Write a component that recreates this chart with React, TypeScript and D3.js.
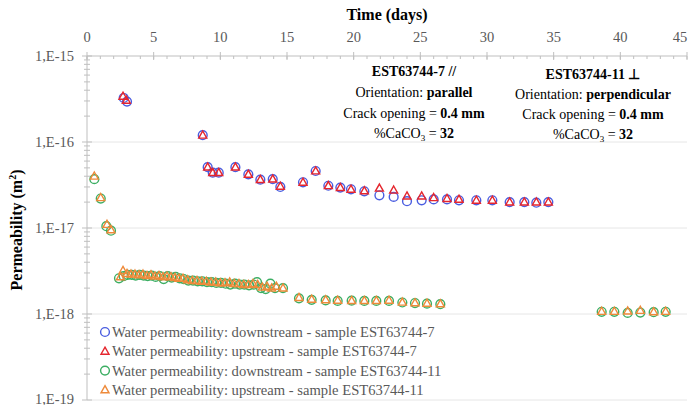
import * as d3 from "d3";
import React from "react";

// day, permeability (m2)
const blueDown: [number, number][] = [
  [2.75, 3.25e-16], [3.0, 2.95e-16], [8.68, 1.2e-16], [9.05, 5.1e-17], [9.43, 4.4e-17],
  [9.88, 4.4e-17], [11.13, 5.1e-17], [12.1, 4.2e-17], [13.0, 3.65e-17], [13.93, 3.7e-17],
  [14.5, 3.0e-17], [16.2, 3.4e-17], [17.15, 4.6e-17], [18.1, 3.1e-17], [19.0, 2.95e-17],
  [19.8, 2.82e-17], [20.8, 2.67e-17], [21.93, 2.4e-17], [23.0, 2.3e-17], [24.0, 2.05e-17],
  [25.1, 2.1e-17], [26.0, 2.15e-17], [27.0, 2.15e-17], [27.9, 2.1e-17], [29.2, 2.1e-17],
  [30.4, 2.1e-17], [31.7, 2.0e-17], [32.8, 2.0e-17], [33.7, 1.97e-17], [34.6, 2.0e-17],
];

const redUp: [number, number][] = [
  [2.7, 3.4e-16], [2.95, 3.05e-16], [8.68, 1.2e-16], [9.05, 5.1e-17], [9.43, 4.4e-17],
  [9.88, 4.4e-17], [11.13, 5.1e-17], [12.1, 4.2e-17], [13.0, 3.65e-17], [13.93, 3.7e-17],
  [14.5, 3.05e-17], [16.2, 3.4e-17], [17.15, 4.6e-17], [18.1, 3.1e-17], [19.0, 2.95e-17],
  [19.8, 2.82e-17], [20.8, 2.7e-17], [21.93, 2.9e-17], [23.0, 2.75e-17], [24.0, 2.35e-17],
  [25.1, 2.35e-17], [26.0, 2.25e-17], [27.0, 2.2e-17], [27.9, 2.15e-17], [29.2, 2.1e-17],
  [30.4, 2.1e-17], [31.7, 2.0e-17], [32.8, 2.0e-17], [33.7, 2.0e-17], [34.6, 2.0e-17],
];

const greenDown: [number, number][] = [
  [0.55, 3.7e-17], [1.03, 2.2e-17], [1.45, 1.05e-17], [1.8, 9.3e-18],
  [2.4, 2.6e-18], [2.75, 2.75e-18], [3.05, 2.85e-18], [3.35, 2.85e-18], [3.65, 2.8e-18],
  [3.95, 2.85e-18], [4.25, 2.8e-18], [4.55, 2.75e-18], [4.85, 2.8e-18], [5.15, 2.7e-18],
  [5.45, 2.75e-18], [5.75, 2.55e-18], [6.05, 2.75e-18], [6.35, 2.65e-18], [6.65, 2.7e-18],
  [6.95, 2.6e-18], [7.25, 2.55e-18], [7.6, 2.45e-18], [7.95, 2.45e-18], [8.3, 2.4e-18],
  [8.65, 2.4e-18], [9.0, 2.35e-18], [9.35, 2.35e-18], [9.7, 2.3e-18], [10.05, 2.3e-18],
  [10.4, 2.25e-18], [10.75, 2.2e-18], [11.1, 2.25e-18], [11.45, 2.2e-18], [11.8, 2.2e-18],
  [12.15, 2.15e-18], [12.5, 2.2e-18], [12.75, 2.35e-18], [13.05, 2.0e-18], [13.4, 1.95e-18],
  [13.75, 2.25e-18], [14.1, 2.0e-18], [14.7, 2.0e-18],
  [15.9, 1.52e-18], [16.85, 1.46e-18], [17.9, 1.44e-18], [18.8, 1.42e-18], [19.85, 1.43e-18],
  [20.8, 1.42e-18], [21.7, 1.42e-18], [22.65, 1.42e-18], [23.65, 1.36e-18], [24.6, 1.34e-18],
  [25.5, 1.32e-18], [26.5, 1.3e-18],
  [38.6, 1.06e-18], [39.55, 1.06e-18], [40.55, 1.03e-18], [41.5, 1.04e-18], [42.5, 1.05e-18],
  [43.4, 1.06e-18],
];

const orangeUp: [number, number][] = [
  [0.55, 4.0e-17], [1.03, 2.25e-17], [1.5, 1.1e-17], [1.8, 9.5e-18],
  [2.5, 2.7e-18], [2.7, 3.2e-18], [3.0, 2.95e-18], [3.3, 2.9e-18], [3.6, 2.9e-18],
  [3.9, 2.85e-18], [4.2, 2.9e-18], [4.5, 2.8e-18], [4.8, 2.85e-18], [5.1, 2.75e-18],
  [5.4, 2.8e-18], [5.7, 2.7e-18], [6.0, 2.75e-18], [6.3, 2.7e-18], [6.6, 2.65e-18],
  [6.9, 2.6e-18], [7.2, 2.6e-18], [7.55, 2.5e-18], [7.9, 2.45e-18], [8.25, 2.45e-18],
  [8.6, 2.4e-18], [8.95, 2.4e-18], [9.3, 2.35e-18], [9.65, 2.35e-18], [10.0, 2.3e-18],
  [10.35, 2.3e-18], [10.7, 2.35e-18], [11.05, 2.25e-18], [11.4, 2.25e-18], [11.75, 2.2e-18],
  [12.1, 2.2e-18], [12.45, 2.25e-18], [12.8, 2.2e-18], [13.15, 2.05e-18], [13.5, 2.1e-18],
  [13.85, 2.0e-18], [14.2, 2.1e-18], [14.7, 2.0e-18],
  [15.9, 1.55e-18], [16.85, 1.48e-18], [17.9, 1.46e-18], [18.8, 1.44e-18], [19.85, 1.43e-18],
  [20.8, 1.43e-18], [21.7, 1.43e-18], [22.65, 1.44e-18], [23.65, 1.37e-18], [24.6, 1.35e-18],
  [25.5, 1.33e-18], [26.5, 1.31e-18],
  [38.6, 1.07e-18], [39.55, 1.07e-18], [40.55, 1.08e-18], [41.5, 1.1e-18], [42.5, 1.06e-18],
  [43.4, 1.07e-18],
];

const legendLabels = [
  "Water permeability: downstream - sample EST63744-7",
  "Water permeability: upstream - sample EST63744-7",
  "Water permeability: downstream - sample EST63744-11",
  "Water permeability: upstream - sample EST63744-11",
];

const FONT = "'Liberation Serif', 'Times New Roman', serif";
const GREY = "#595959";
const AXIS = "#bfbfbf";

const Marker = ({ type, color, cx, cy }: { type: string; color: string; cx: number; cy: number }) =>
  type === "circle" ? (
    <circle cx={cx} cy={cy} r={4.4} fill="none" stroke={color} strokeWidth={1.4} />
  ) : (
    <path
      d={`M${cx},${cy - 4.2} L${cx + 4},${cy + 2.9} L${cx - 4},${cy + 2.9} Z`}
      fill="none"
      stroke={color}
      strokeWidth={1.4}
    />
  );

export default function App() {
  const width = 689;
  const height = 405;
  const x = d3.scaleLinear().domain([0, 45]).range([87, 687]);
  const y = d3.scaleLog().domain([1e-19, 1e-15]).range([400, 56]);

  const decades = [1e-15, 1e-16, 1e-17, 1e-18, 1e-19];
  const minors = y.ticks().filter((t) => !decades.some((d) => Math.abs(t / d - 1) < 1e-6));
  const majorX = d3.range(0, 46, 5);
  const minorX = d3.range(0, 46, 1);

  const series = [
    { data: greenDown, type: "circle", color: "#3cae63" },
    { data: orangeUp, type: "triangle", color: "#ee8a3a" },
    { data: blueDown, type: "circle", color: "#4a5de0" },
    { data: redUp, type: "triangle", color: "#e5262e" },
  ];
  const legend = [
    { type: "circle", color: "#4a5de0" },
    { type: "triangle", color: "#e5262e" },
    { type: "circle", color: "#3cae63" },
    { type: "triangle", color: "#ee8a3a" },
  ];

  return (
    <svg
      width={width}
      height={height}
      style={{ position: "absolute", left: 0, top: 0, background: "#fff" }}
      fontFamily={FONT}
    >
      {/* gridlines */}
      {decades.slice(1).map((d) => (
        <line key={d} x1={87} x2={687} y1={y(d)} y2={y(d)} stroke="#e6e6e6" strokeWidth={1} />
      ))}

      {/* top x axis */}
      <line x1={87} x2={687} y1={56} y2={56} stroke={AXIS} />
      {minorX.map((t) => (
        <line key={"mx" + t} x1={x(t)} x2={x(t)} y1={56} y2={59} stroke={AXIS} />
      ))}
      {majorX.map((t) => (
        <g key={"x" + t}>
          <line x1={x(t)} x2={x(t)} y1={52} y2={60} stroke={AXIS} />
          <text x={Math.min(x(t), 680)} y={42} textAnchor="middle" fontSize={14.5} fill={GREY}>
            {t}
          </text>
        </g>
      ))}
      <text x={387} y={20} textAnchor="middle" fontSize={16} fontWeight="bold" fill="#000">
        Time (days)
      </text>

      {/* left y axis */}
      <line x1={87} x2={87} y1={56} y2={400} stroke={AXIS} />
      {minors.map((t) => (
        <line key={"my" + t} x1={84} x2={90} y1={y(t)} y2={y(t)} stroke={AXIS} />
      ))}
      {decades.map((d) => (
        <g key={"y" + d}>
          <line x1={82} x2={92} y1={y(d)} y2={y(d)} stroke={AXIS} />
          <text x={74} y={Math.min(y(d) + 5, 404)} textAnchor="end" fontSize={14.5} fill={GREY}>
            {`1,E${Math.round(Math.log10(d))}`}
          </text>
        </g>
      ))}
      <text
        transform="translate(22,230) rotate(-90)"
        textAnchor="middle"
        fontSize={16}
        fontWeight="bold"
        fill="#000"
      >
        Permeability (m<tspan dy={-6} fontSize={10}>2</tspan>
        <tspan dy={6}>)</tspan>
      </text>

      {/* data */}
      {series.map((s, i) => (
        <g key={i}>
          {s.data.map(([d, v], j) => (
            <Marker key={j} type={s.type} color={s.color} cx={x(d)} cy={y(v)} />
          ))}
        </g>
      ))}

      {/* annotations */}
      <g fontSize={14} textAnchor="middle" fill="#000">
        <text x={414} y={76} fontWeight="bold">EST63744-7 //</text>
        <text x={414} y={97}>
          Orientation: <tspan fontWeight="bold">parallel</tspan>
        </text>
        <text x={414} y={118}>
          Crack opening = <tspan fontWeight="bold">0.4 mm</tspan>
        </text>
        <text x={414} y={138}>
          %CaCO<tspan dy={3} fontSize={9}>3</tspan>
          <tspan dy={-3}> = </tspan>
          <tspan fontWeight="bold">32</tspan>
        </text>

        <text x={593} y={79} fontWeight="bold">EST63744-11 ⊥</text>
        <text x={593} y={99}>
          Orientation: <tspan fontWeight="bold">perpendicular</tspan>
        </text>
        <text x={593} y={119}>
          Crack opening = <tspan fontWeight="bold">0.4 mm</tspan>
        </text>
        <text x={593} y={139}>
          %CaCO<tspan dy={3} fontSize={9}>3</tspan>
          <tspan dy={-3}> = </tspan>
          <tspan fontWeight="bold">32</tspan>
        </text>
      </g>

      {/* legend */}
      {legendLabels.map((label, i) => (
        <g key={label}>
          <Marker type={legend[i].type} color={legend[i].color} cx={105} cy={332 + i * 19.3} />
          <text x={112} y={332 + i * 19.3 + 5} fontSize={14.6} fill={GREY}>
            {label}
          </text>
        </g>
      ))}
    </svg>
  );
}
